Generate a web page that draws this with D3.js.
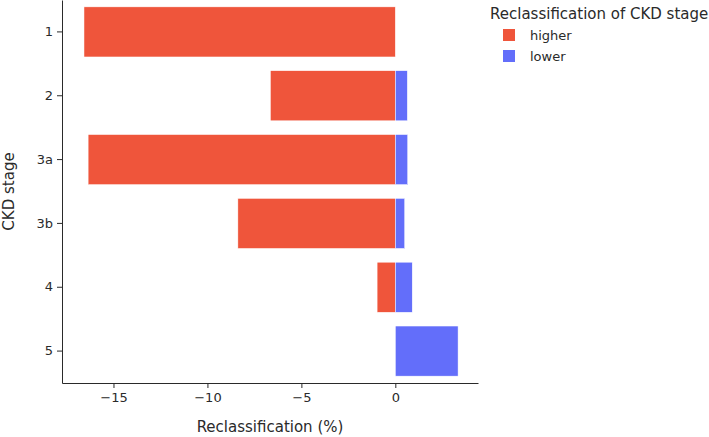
<!DOCTYPE html>
<html>
<head>
<meta charset="utf-8">
<script src="https://cdn.jsdelivr.net/npm/d3@7"></script>
<style>
  body { margin: 0; background: #fff; }
  svg text { font-family: "DejaVu Sans", Verdana, sans-serif; fill: #2a2a2a; }
</style>
</head>
<body>
<div id="chart"></div>
<script>
// data
const stages = ['1', '2', '3a', '3b', '4', '5'];
const higher = [-16.57, -6.65, -16.35, -8.38, -0.97, 0];
const lower = [0, 0.64, 0.66, 0.5, 0.9, 3.34];
const seriesNames = ['higher', 'lower'];
const seriesColors = ['#EF553B', '#636EFA'];
const xTicks = [-15, -10, -5, 0];

const width = 709;
const height = 437;
const plot = {left: 62, right: 478, top: 0, bottom: 383};

const svg = d3.select('#chart').append('svg')
  .attr('width', width)
  .attr('height', height);

const x = d3.scaleLinear()
  .domain([-17.74, 4.4])
  .range([plot.left, plot.right]);

const y = d3.scaleBand()
  .domain(stages)
  .range([plot.top, plot.bottom])
  .paddingInner(0.215)
  .paddingOuter(0.1075);

// bars, one group per series
const series = [higher, lower];
series.forEach((vals, i) => {
  svg.append('g')
    .selectAll('rect')
    .data(stages.map((s, j) => ({stage: s, v: vals[j]})).filter(d => d.v !== 0))
    .join('rect')
    .attr('x', d => x(Math.min(0, d.v)))
    .attr('width', d => Math.abs(x(d.v) - x(0)))
    .attr('y', d => y(d.stage))
    .attr('height', y.bandwidth())
    .attr('fill', seriesColors[i])
    .attr('stroke', '#fff')
    .attr('stroke-width', 0.5);
});

// axes
const xAxis = svg.append('g')
  .attr('transform', `translate(0,${plot.bottom})`)
  .call(d3.axisBottom(x).tickValues(xTicks).tickSize(5).tickPadding(5).tickSizeOuter(0));

const yAxis = svg.append('g')
  .attr('transform', `translate(${plot.left},0)`)
  .call(d3.axisLeft(y).tickSize(5).tickPadding(4).tickSizeOuter(0));

[xAxis, yAxis].forEach(a => {
  a.select('.domain').attr('stroke', '#2a2a2a').attr('stroke-width', 1);
  a.selectAll('.tick line').attr('stroke', '#2a2a2a');
  a.selectAll('.tick text').attr('font-size', 13);
});

// axis titles
svg.append('text')
  .attr('x', (plot.left + plot.right) / 2)
  .attr('y', 432)
  .attr('text-anchor', 'middle')
  .attr('font-size', 15)
  .text('Reclassification (%)');

svg.append('text')
  .attr('transform', `translate(14,${(plot.top + plot.bottom) / 2}) rotate(-90)`)
  .attr('text-anchor', 'middle')
  .attr('font-size', 15)
  .text('CKD stage');

// legend
const legend = svg.append('g').attr('transform', 'translate(490,0)');
legend.append('text')
  .attr('x', 0)
  .attr('y', 19)
  .attr('font-size', 15)
  .text('Reclassification of CKD stage');

seriesNames.forEach((name, i) => {
  const cy = 35 + i * 21;
  legend.append('rect')
    .attr('x', 13).attr('y', cy - 6)
    .attr('width', 12).attr('height', 12)
    .attr('fill', seriesColors[i]);
  legend.append('text')
    .attr('x', 40).attr('y', cy + 4.5)
    .attr('font-size', 13)
    .text(name);
});
</script>
</body>
</html>
